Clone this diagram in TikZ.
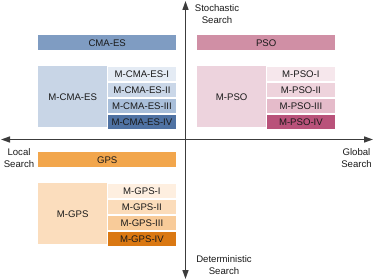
\documentclass[tikz,border=0pt]{standalone}
\usepackage{fontspec}
\setmainfont{Liberation Sans}
\usepackage{tikz}
\usetikzlibrary{arrows.meta,positioning}
\definecolor{axisx}{HTML}{3C3C3C}
\definecolor{textx}{HTML}{1A1A1A}
\definecolor{cmabar}{HTML}{7F9CC2}
\definecolor{cmabig}{HTML}{C8D5E6}
\definecolor{cmaA}{HTML}{E4EBF4}
\definecolor{cmaB}{HTML}{CAD7E8}
\definecolor{cmaC}{HTML}{A9BFDA}
\definecolor{cmaD}{HTML}{4F72A3}
\definecolor{psobar}{HTML}{D08FA5}
\definecolor{psobig}{HTML}{EDD3DD}
\definecolor{psoA}{HTML}{F6E7EC}
\definecolor{psoB}{HTML}{EED3DC}
\definecolor{psoC}{HTML}{E5BBCA}
\definecolor{psoD}{HTML}{B9527A}
\definecolor{gpsbar}{HTML}{F2A64C}
\definecolor{gpsbig}{HTML}{FBDDBD}
\definecolor{gpsA}{HTML}{FEEFE0}
\definecolor{gpsB}{HTML}{FBDCBA}
\definecolor{gpsC}{HTML}{F8CB99}
\definecolor{gpsD}{HTML}{DA7812}
\newcommand{\fs}{\fontsize{9.6}{12}\selectfont}
\tikzset{
  ax/.style={{Triangle[length=9pt,width=6pt]}-{Triangle[length=9pt,width=6pt]},line width=1.5pt,axisx},
  bar/.style={anchor=north west,minimum width=138pt,minimum height=15pt,inner sep=0pt,font=\fs,text=textx},
  big/.style={anchor=north west,minimum width=69pt,minimum height=61pt,inner sep=0pt,font=\fs,text=textx},
  sub/.style={draw=white,line width=0.8pt,minimum width=69pt,minimum height=15.25pt,inner sep=0pt,font=\fs,text=textx},
  lbl/.style={align=center,inner sep=0pt,font=\fs,text=textx}
}
\begin{document}
\begin{tikzpicture}[x=1pt,y=-1pt]
\useasboundingbox (0,0) rectangle (374,280);
% axes
\coordinate (axL) at (1,139.5);
\coordinate (axR) at (373,139.5);
\coordinate (axT) at (185.5,1);
\coordinate (axB) at (185.5,279);
\draw[ax] (axL) -- (axR);
\draw[ax] (axT) -- (axB);
\node[lbl] (stoch) at (217,14) {Stochastic\\Search};
\node[lbl] (determ) at (224,265.5) {Deterministic\\Search};
\node[lbl] (local) at (19,158) {Local\\Search};
\node[lbl] (global) at (356.5,158.5) {Global\\Search};
% CMA-ES
\node[bar,fill=cmabar] (cma) at (38,35) {CMA-ES};
\node[big,fill=cmabig] (mcma) at (38,66) {M-CMA-ES};
\node[sub,fill=cmaA,anchor=north west] (mcmaA) at (107,66) {M-CMA-ES-I};
\node[sub,fill=cmaB,below=0pt of mcmaA] (mcmaB) {M-CMA-ES-II};
\node[sub,fill=cmaC,below=0pt of mcmaB] (mcmaC) {M-CMA-ES-III};
\node[sub,fill=cmaD,below=0pt of mcmaC] (mcmaD) {M-CMA-ES-IV};
% PSO
\node[bar,fill=psobar] (pso) at (197,35) {PSO};
\node[big,fill=psobig] (mpso) at (197,66) {M-PSO};
\node[sub,fill=psoA,anchor=north west] (mpsoA) at (266,66) {M-PSO-I};
\node[sub,fill=psoB,below=0pt of mpsoA] (mpsoB) {M-PSO-II};
\node[sub,fill=psoC,below=0pt of mpsoB] (mpsoC) {M-PSO-III};
\node[sub,fill=psoD,below=0pt of mpsoC] (mpsoD) {M-PSO-IV};
% GPS
\node[bar,fill=gpsbar] (gps) at (38,152) {GPS};
\node[big,fill=gpsbig] (mgps) at (38,183) {M-GPS};
\node[sub,fill=gpsA,anchor=north west] (mgpsA) at (107,183) {M-GPS-I};
\node[sub,fill=gpsB,below=0pt of mgpsA] (mgpsB) {M-GPS-II};
\node[sub,fill=gpsC,below=0pt of mgpsB] (mgpsC) {M-GPS-III};
\node[sub,fill=gpsD,below=0pt of mgpsC] (mgpsD) {M-GPS-IV};
\end{tikzpicture}
\end{document}
